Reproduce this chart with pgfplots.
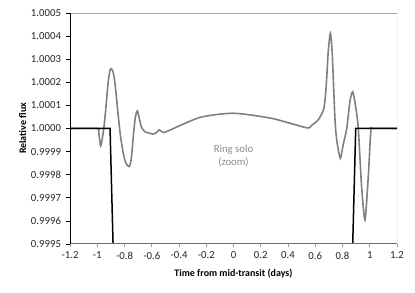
\documentclass[border=0pt]{standalone}
\usepackage{pgfplots}
\pgfplotsset{compat=1.18}
\usepackage{fontspec}
\setmainfont{Carlito}
\begin{document}
\begin{tikzpicture}
\begin{axis}[
  at={(0,0)}, anchor=south west,
  scale only axis, width=327bp, height=231bp,
  xmin=-1.2, xmax=1.2, ymin=0.9995, ymax=1.0005,
  axis line style={draw=none},
  clip=true,
  xtick={-1.2,-1,-0.8,-0.6,-0.4,-0.2,0,0.2,0.4,0.6,0.8,1,1.2},
  xticklabels={-1.2,-1,-0.8,-0.6,-0.4,-0.2,0,0.2,0.4,0.6,0.8,1,1.2},
  ytick={0.9995,0.9996,0.9997,0.9998,0.9999,1.0000,1.0001,1.0002,1.0003,1.0004,1.0005},
  yticklabels={0.9995,0.9996,0.9997,0.9998,0.9999,1.0000,1.0001,1.0002,1.0003,1.0004,1.0005},
  xtick pos=bottom, ytick pos=left,
  tick align=outside, major tick length=3.5bp,
  xtick style={draw=gray!80, line width=0.8bp},
  ytick style={draw=black, line width=0.6bp},
  tick label style={font=\fontsize{10.8}{12}\selectfont, text=black!85},
  xticklabel style={yshift=-1bp},
  yticklabel style={xshift=-2bp},
  xlabel={\textbf{Time from mid-transit (days)}},
  ylabel={\textbf{Relative flux}},
  label style={font=\fontsize{10.8}{12}\selectfont},
  every axis x label/.style={at={(rel axis cs:0.5,-0.128)}, anchor=center},
  every axis y label/.style={at={(rel axis cs:-0.145,0.5)}, anchor=center, rotate=90},
]
\addplot[color={rgb,255:red,128;green,128;blue,128}, line width=1.6bp, smooth, tension=0.4] coordinates {
(-1.2,1.0) (-1.0,1.0) (-0.99,0.999985) (-0.975,0.999925) (-0.962,0.99996) (-0.95,1.00001)
(-0.935,1.0001) (-0.92,1.0002) (-0.905,1.000255) (-0.89,1.000255) (-0.875,1.00022)
(-0.86,1.00014) (-0.845,1.00005) (-0.83,0.99997) (-0.81,0.999895) (-0.79,0.99985)
(-0.765,0.999835) (-0.75,0.99987) (-0.735,0.99997) (-0.72,1.00005) (-0.706,1.000076)
(-0.69,1.00004) (-0.675,1.000005) (-0.65,0.999986) (-0.62,0.99998) (-0.589,0.999976)
(-0.565,0.999982) (-0.547,0.999994) (-0.53,0.999988) (-0.515,0.999982) (-0.478,0.99999)
(-0.246,1.000048) (0,1.000066) (0.28,1.000044) (0.537,1.000003) (0.57,1.000012)
(0.615,1.000033) (0.64,1.000055) (0.664,1.000087) (0.68,1.00018) (0.695,1.00033)
(0.711,1.000412) (0.725,1.00032) (0.745,1.000037) (0.76,0.99994) (0.784,0.999871)
(0.805,0.99993) (0.831,1.0) (0.855,1.00012) (0.875,1.000159) (0.895,1.0001)
(0.916,1.0) (0.94,0.99975) (0.965,0.999604) (0.99,0.9998) (1.008,0.99999) (1.025,1.0) (1.2,1.0)
};
\addplot[black, line width=1.5bp] coordinates {(-1.2,1.0) (-0.906,1.0) (-0.862,0.999)};
\addplot[black, line width=1.5bp] coordinates {(0.853,0.999) (0.897,1.0) (1.2,1.0)};
\node[font=\fontsize{10.8}{13}\selectfont, text={rgb,255:red,140;green,140;blue,140}, align=center] at (axis cs:0,0.99988) {Ring solo\\(zoom)};
\draw[gray!70, line width=0.8bp] (rel axis cs:0,1) -- (rel axis cs:1,1) -- (rel axis cs:1,0);
\draw[gray!85!black, line width=1.2bp] (rel axis cs:0,0) -- (rel axis cs:1,0);
\draw[black, line width=0.7bp] (rel axis cs:0,0) -- (rel axis cs:0,1);
\end{axis}
\pgfresetboundingbox
\path[use as bounding box] (-70bp,-49bp) rectangle (345bp,244bp);
\end{tikzpicture}
\end{document}
